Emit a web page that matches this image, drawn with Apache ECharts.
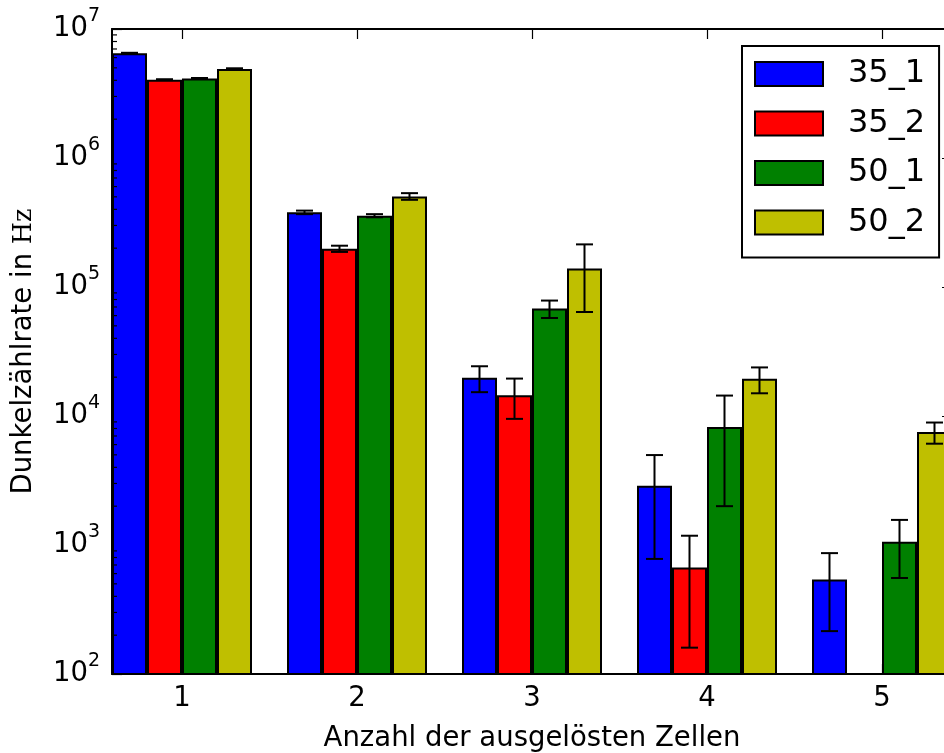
<!DOCTYPE html>
<html>
<head>
<meta charset="utf-8">
<script src="https://cdn.jsdelivr.net/npm/echarts@6/dist/echarts.min.js"></script>
<style>
  html, body { margin: 0; padding: 0; background: #ffffff; }
  #chart { width: 944px; height: 753px; }
</style>
</head>
<body>
<div id="chart"></div>
<script>
// Number of triggered cells
const categories = [1, 2, 3, 4, 5];
const xTickLabels = ['1', '2', '3', '4', '5'];
const seriesNames = ['35_1', '35_2', '50_1', '50_2'];
const seriesColors = ['#0000ff', '#ff0000', '#008000', '#bfbf00'];

// Dark count rate in Hz per sample (null = no counts)
const rate_35_1 = [6.5e6, 3.79e5, 1.98e4, 2.88e3, 540];
const rate_35_2 = [4.05e6, 1.98e5, 1.45e4, 670, null];
const rate_50_1 = [4.14e6, 3.57e5, 6.8e4, 8.2e3, 1060];
const rate_50_2 = [4.9e6, 5.04e5, 1.39e5, 1.94e4, 7.5e3];

// Symmetric uncertainties in Hz
const err_35_1 = [4e4, 1.2e4, 4.5e3, 2.1e3, 325];
const err_35_2 = [3e4, 1.1e4, 5e3, 510, null];
const err_50_1 = [3e4, 1e4, 1.05e4, 6.2e3, 505];
const err_50_2 = [6e4, 3e4, 7.5e4, 4.4e3, 1.4e3];

// Decade exponents of the logarithmic y axis
const yTickExponents = [2, 3, 4, 5, 6, 7];

const rates = [rate_35_1, rate_35_2, rate_50_1, rate_50_2];
const errors = [err_35_1, err_35_2, err_50_1, err_50_2];

const X_MIN = 0.6, X_MAX = 5.4;       // axis range around the groups
const BAR_STEP = 0.2;                 // width of one bar in axis units
const Y_MIN = Math.pow(10, yTickExponents[0]);
const Y_MAX = Math.pow(10, yTickExponents[yTickExponents.length - 1]);

const FONT = 'DejaVu Sans';
const LABEL_SIZE = 27.5;
const chart = echarts.init(document.getElementById('chart'), null, { renderer: 'canvas' });

// Minor log ticks at 2..9 x 10^n
const minorTickValues = [];
for (let e = yTickExponents[0]; e < yTickExponents[yTickExponents.length - 1]; e++) {
  for (let m = 2; m <= 9; m++) minorTickValues.push(m * Math.pow(10, e));
}

const barSeries = seriesNames.map((name, k) => ({
  name: name,
  type: 'bar',
  xAxisIndex: 0,
  yAxisIndex: 0,
  barWidth: 35,
  barGap: '0%',
  clip: true,
  itemStyle: { color: seriesColors[k], borderColor: '#000', borderWidth: 2 },
  emphasis: { disabled: true },
  data: categories
    .map((c, i) => [c, rates[k][i]])
    .filter(d => d[1] !== null),
  z: 2
}));

// Error bars placed at the centre of each bar
const errorData = [];
seriesNames.forEach((name, k) => {
  categories.forEach((c, i) => {
    if (rates[k][i] !== null && errors[k][i] !== null) {
      errorData.push([c + (k - 1.5) * BAR_STEP, rates[k][i], errors[k][i]]);
    }
  });
});

const errorSeries = {
  name: 'errors',
  type: 'custom',
  xAxisIndex: 0,
  yAxisIndex: 0,
  silent: true,
  z: 5,
  data: errorData,
  renderItem: function (params, api) {
    const x = api.value(0), v = api.value(1), e = api.value(2);
    const top = api.coord([x, v + e]);
    const bot = api.coord([x, Math.max(v - e, 1e-9)]);
    const cap = 8.5;
    const style = { stroke: '#000', lineWidth: 2, fill: null };
    return {
      type: 'group',
      children: [
        { type: 'line', shape: { x1: top[0], y1: top[1], x2: bot[0], y2: bot[1] }, style: style },
        { type: 'line', shape: { x1: top[0] - cap, y1: top[1], x2: top[0] + cap, y2: top[1] }, style: style },
        { type: 'line', shape: { x1: bot[0] - cap, y1: bot[1], x2: bot[0] + cap, y2: bot[1] }, style: style }
      ]
    };
  }
};

const minorTickSeries = {
  name: 'minorTicks',
  type: 'custom',
  xAxisIndex: 0,
  yAxisIndex: 0,
  silent: true,
  clip: false,
  z: 6,
  data: minorTickValues.map(v => [X_MIN, v]),
  renderItem: function (params, api) {
    const pL = api.coord([X_MIN, api.value(1)]);
    const pR = api.coord([X_MAX, api.value(1)]);
    const style = { stroke: '#000', lineWidth: 1.2 };
    return {
      type: 'group',
      children: [
        { type: 'line', shape: { x1: pL[0], y1: pL[1], x2: pL[0] + 5, y2: pL[1] }, style: style },
        { type: 'line', shape: { x1: pR[0], y1: pR[1], x2: pR[0] - 5, y2: pR[1] }, style: style }
      ]
    };
  }
};

const logLabel = function (value) {
  const exp = Math.round(Math.log10(value));
  return '{b|10}{s|' + exp + '}';
};

const option = {
  backgroundColor: '#ffffff',
  animation: false,
  textStyle: { fontFamily: FONT },
  grid: { left: 112, top: 29, width: 840, height: 645, containLabel: false, outerBoundsMode: 'none' },
  legend: {
    orient: 'vertical',
    left: 742,
    top: 46,
    data: seriesNames,
    icon: 'rect',
    itemWidth: 68,
    itemHeight: 24,
    itemGap: 17.5,
    padding: [12, 14, 19, 12],
    borderColor: '#000',
    borderWidth: 2,
    borderRadius: 0,
    backgroundColor: '#ffffff',
    selectedMode: false,
    textStyle: { fontFamily: FONT, fontSize: 32, color: '#000', padding: [0, 0, 0, 20] }
  },
  xAxis: [
    {
      type: 'value',
      position: 'bottom',
      min: X_MIN,
      max: X_MAX,
      name: 'Anzahl der ausgelösten Zellen',
      nameLocation: 'middle',
      nameGap: 51,
      nameTextStyle: { fontFamily: FONT, fontSize: LABEL_SIZE, color: '#000' },
      axisLine: { show: true, onZero: false, lineStyle: { color: '#000', width: 2 } },
      axisTick: { show: true, inside: true, length: 10, customValues: categories, lineStyle: { color: '#000', width: 1.2 } },
      axisLabel: {
        show: true, margin: 11, fontFamily: FONT, fontSize: LABEL_SIZE, color: '#000',
        customValues: categories,
        formatter: function (v) { const i = categories.indexOf(v); return i >= 0 ? xTickLabels[i] : ''; }
      },
      splitLine: { show: false }
    },
    {
      type: 'value',
      position: 'top',
      min: X_MIN,
      max: X_MAX,
      axisLine: { show: true, onZero: false, lineStyle: { color: '#000', width: 2 } },
      axisTick: { show: true, inside: true, length: 10, customValues: categories, lineStyle: { color: '#000', width: 1.2 } },
      axisLabel: { show: false },
      splitLine: { show: false }
    }
  ],
  yAxis: [
    {
      type: 'log',
      logBase: 10,
      position: 'left',
      min: Y_MIN,
      max: Y_MAX,
      splitNumber: yTickExponents.length - 1,
      name: '{a|Dunkelzählrate in }{h|Hz}',
      nameLocation: 'middle',
      nameRotate: 90,
      nameGap: 74,
      nameTextStyle: {
        rich: {
          a: { fontFamily: FONT, fontSize: LABEL_SIZE, color: '#000' },
          h: { fontFamily: 'DejaVu Serif', fontSize: 25.5, color: '#000' }
        }
      },
      axisLine: { show: true, onZero: false, lineStyle: { color: '#000', width: 2 } },
      axisTick: { show: true, inside: true, length: 10, lineStyle: { color: '#000', width: 1.2 } },
      axisLabel: {
        show: true,
        margin: 12,
        formatter: logLabel,
        rich: {
          b: { fontFamily: FONT, fontSize: LABEL_SIZE, color: '#000', lineHeight: 28 },
          s: { fontFamily: FONT, fontSize: 19, color: '#000', lineHeight: 19, padding: [0, 0, 26, 0] }
        }
      },
      splitLine: { show: false }
    },
    {
      type: 'log',
      logBase: 10,
      position: 'right',
      min: Y_MIN,
      max: Y_MAX,
      splitNumber: yTickExponents.length - 1,
      axisLine: { show: true, onZero: false, lineStyle: { color: '#000', width: 2 } },
      axisTick: { show: true, inside: true, length: 10, lineStyle: { color: '#000', width: 1.2 } },
      axisLabel: { show: false },
      splitLine: { show: false }
    }
  ],
  series: barSeries.concat([errorSeries, minorTickSeries])
};

chart.setOption(option);
</script>
</body>
</html>
